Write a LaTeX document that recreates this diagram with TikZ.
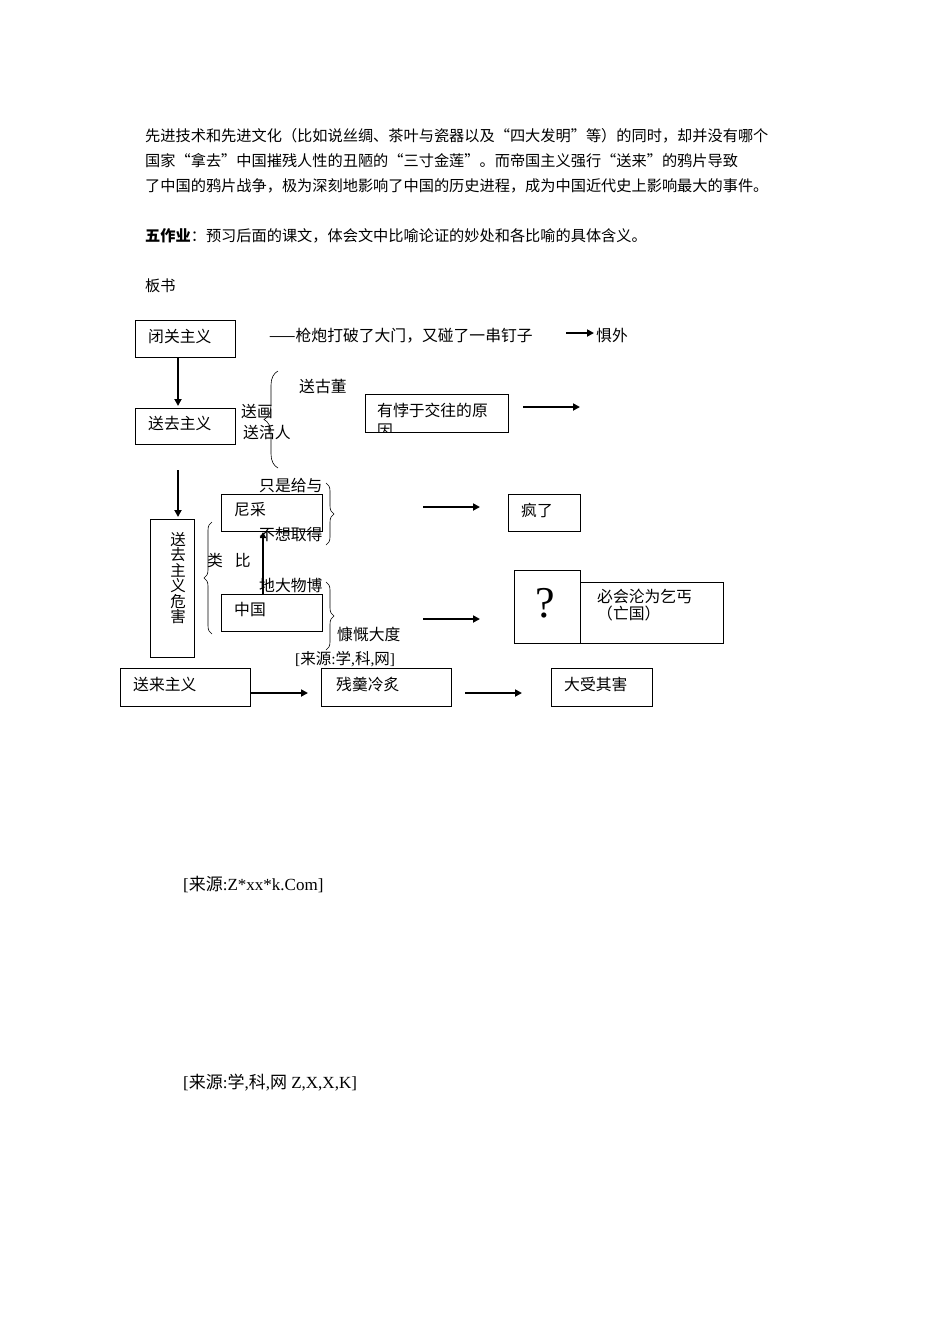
\documentclass[tikz,border=0pt]{standalone}
\usepackage{fontspec}
\setmainfont{Liberation Serif}
\newfontfamily\cjk{Noto Sans CJK SC}
\usetikzlibrary{arrows.meta,decorations.pathreplacing}
\begin{document}
\begin{tikzpicture}[x=1pt,y=-1pt,
  bx/.style={draw,line width=0.9pt,inner sep=0},
  tx/.style={anchor=west,inner sep=0,font=\cjk\fontsize{15.2}{17}\selectfont},
  dg/.style={anchor=west,inner sep=0,font=\cjk\fontsize{15.8}{17}\selectfont},
  lt/.style={anchor=west,inner sep=0,font=\fontsize{17}{19}\selectfont},
  ar/.style={line width=2pt,-{Triangle[length=7pt,width=7pt]}},
  br/.style={decorate,decoration={brace,amplitude=8pt},line width=0.6pt}]
\useasboundingbox (0,0) rectangle (950,1344);
\node[tx] (l1) at (145,136) {先进技术和先进文化（比如说丝绸、茶叶与瓷器以及“四大发明”等）的同时，却并没有哪个};
\node[tx] (l2) at (145,161) {国家“拿去”中国摧残人性的丑陋的“三寸金莲”。而帝国主义强行“送来”的鸦片导致};
\node[tx] (l3) at (145,186) {了中国的鸦片战争，极为深刻地影响了中国的历史进程，成为中国近代史上影响最大的事件。};
\node[tx] (l4) at (145,236) {\textbf{五作业}：预习后面的课文，体会文中比喻论证的妙处和各比喻的具体含义。};
\node[tx] (l5) at (145,286) {板书};
% boxes
\draw[bx] (135,320) rectangle (235,357); \node[dg] (a) at (148,336) {闭关主义};
\draw[bx] (135,408) rectangle (235,444); \node[dg] (b) at (148,423) {送去主义};
\draw[bx] (150,519) rectangle (194,657); \node[dg,anchor=north,align=center,font=\cjk\fontsize{15.5}{15.5}\selectfont] (c) at (178,532) {送\\去\\主\\义\\危\\害};
\draw[bx] (221,494) rectangle (322,531); \node[dg] (d) at (234,510) {尼采};
\draw[bx] (221,594) rectangle (322,631); \node[dg] (e) at (234,609) {中国};
\draw[bx] (365,394) rectangle (508,432); \node[dg] (f) at (377,410) {有悖于交往的原};
\begin{scope}\clip (365,394) rectangle (508,431); \node[dg] at (377,431) {因};\end{scope}
\draw[bx] (508,494) rectangle (580,531); \node[dg] (g) at (521,510) {疯了};
\draw[bx] (514,570) rectangle (580,643); \node[inner sep=0,font=\fontsize{44}{44}\selectfont] (q) at (545,603) {?};
\draw[bx] (580,582) rectangle (723,643); \node[dg,align=left] (h) at (597,605) {必会沦为乞丐\\（亡国）};
\draw[bx] (120,668) rectangle (250,706); \node[dg] (i) at (133,684) {送来主义};
\draw[bx] (321,668) rectangle (451,706); \node[dg] (j) at (336,684) {残羹冷炙};
\draw[bx] (551,668) rectangle (652,706); \node[dg] (k) at (564,684) {大受其害};
% texts
\node[dg] (t1) at (269,336) {——枪炮打破了大门，又碰了一串钉子};
\node[dg] (t2) at (596,336) {惧外};
\node[dg] (t3) at (299,386) {送古董};
\node[dg] (t4) at (241,411) {送画};
\node[dg] (t5) at (243,432) {送活人};
\node[dg] (t6) at (259,486) {只是给与};
\node[dg] (t7) at (259,535) {不想取得};
\node[dg] (t8) at (207,560) {类\hspace{12pt}比};
\node[dg] (t9) at (259,585) {地大物博};
\node[dg] (t10) at (337,634) {慷慨大度};
\node[lt,font=\fontsize{15.5}{17}\selectfont] (t11) at (295,659) {[{\cjk 来源}:{\cjk 学},{\cjk 科},{\cjk 网}]};
\node[lt] (t12) at (183,884) {[{\cjk 来源}:Z*xx*k.Com]};
\node[lt] (t13) at (183,1083) {[{\cjk 来源}:{\cjk 学},{\cjk 科},{\cjk 网} Z,X,X,K]};
% arrows
\coordinate (p1) at (178,357); \coordinate (p2) at (178,406);
\draw[ar] (p1) -- (p2);
\coordinate (p3) at (178,470); \coordinate (p4) at (178,517);
\draw[ar] (p3) -- (p4);
\draw[line width=2pt,-{Triangle[length=6pt,width=6pt]}] (263,594) -- (263,532);
\coordinate (p5) at (566,333); \coordinate (p6) at (594,333); \draw[ar] (p5) -- (p6);
\coordinate (p7) at (523,407); \coordinate (p8) at (580,407); \draw[ar] (p7) -- (p8);
\coordinate (p9) at (423,507); \coordinate (p10) at (480,507); \draw[ar] (p9) -- (p10);
\coordinate (p11) at (423,619); \coordinate (p12) at (480,619); \draw[ar] (p11) -- (p12);
\coordinate (p13) at (250,693); \coordinate (p14) at (308,693); \draw[ar] (p13) -- (p14);
\coordinate (p15) at (465,693); \coordinate (p16) at (522,693); \draw[ar] (p15) -- (p16);
% braces
\draw[br,decoration={amplitude=14pt}] (278,468) -- (278,371);
\draw[br] (326,483) -- (326,545);
\draw[br] (212,634) -- (212,522);
\draw[br] (326,582) -- (326,650);
\end{tikzpicture}
\end{document}
